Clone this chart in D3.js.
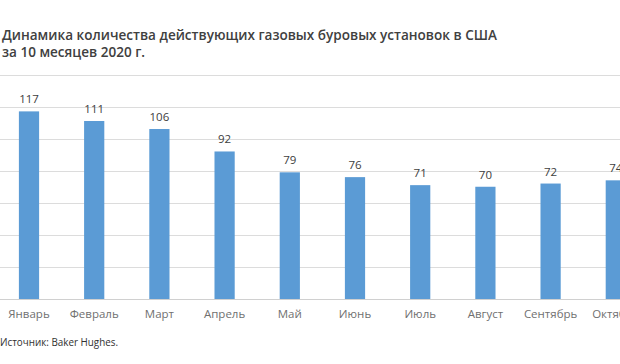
<!DOCTYPE html>
<html><head><meta charset="utf-8">
<script src="https://cdn.jsdelivr.net/npm/d3@7"></script>
<style>body{margin:0;background:#fff;}svg{display:block;}</style>
</head><body>
<svg id="c" width="620" height="364"></svg>
<script>
const months = ["Январь","Февраль","Март","Апрель","Май","Июнь","Июль","Август","Сентябрь","Октябрь"];
const rigs = [117,111,106,92,79,76,71,70,72,74];
const gridTicks = [0,20,40,60,80,100,120,140];
const titleLines = ["Динамика количества действующих газовых буровых установок в США","за 10 месяцев 2020 г."];
const sourceText = "Источник: Baker Hughes.";

const svg = d3.select("#c");
const x = d3.scaleBand().domain(months).range([-3.6, 648.4]).paddingInner(0.69).paddingOuter(0.345);
const y = d3.scaleLinear().domain([0,140]).range([299,74.5]);

// gridlines
svg.append("g").selectAll("line").data(gridTicks).join("line")
  .attr("x1",0).attr("x2",620)
  .attr("y1",d=>Math.round(y(d))+0.5).attr("y2",d=>Math.round(y(d))+0.5)
  .attr("stroke",d=>d===0?"#d0d0d0":"#dcdcdc").attr("stroke-width",1);

// bars
svg.append("g").selectAll("rect").data(rigs).join("rect")
  .attr("x",(d,i)=>x(months[i]))
  .attr("width",x.bandwidth())
  .attr("y",d=>y(d))
  .attr("height",d=>y(0)-y(d))
  .attr("fill","#5b9bd5");

// value labels
svg.append("g").selectAll("text").data(rigs).join("text")
  .attr("x",(d,i)=>x(months[i])+x.bandwidth()/2)
  .attr("y",d=>y(d)-8)
  .attr("text-anchor","middle")
  .attr("font-family","Open Sans, sans-serif")
  .attr("font-size",11.5)
  .attr("fill","#404040")
  .text(d=>d);

// month labels
svg.append("g").selectAll("text").data(months).join("text")
  .attr("x",d=>x(d)+x.bandwidth()/2)
  .attr("y",318)
  .attr("text-anchor","middle")
  .attr("font-family","Open Sans, sans-serif")
  .attr("font-size",11.5)
  .attr("fill","#707070")
  .text(d=>d);

// title
svg.append("text").attr("x",2).attr("y",40)
  .attr("font-family","Open Sans, sans-serif").attr("font-weight",600)
  .attr("font-size",14.5).attr("fill","#404040")
  .attr("textLength",495).attr("lengthAdjust","spacingAndGlyphs")
  .text(titleLines[0]);
svg.append("text").attr("x",2).attr("y",57)
  .attr("font-family","Open Sans, sans-serif").attr("font-weight",600)
  .attr("font-size",14.5).attr("fill","#404040")
  .attr("textLength",143).attr("lengthAdjust","spacingAndGlyphs")
  .text(titleLines[1]);

// source
svg.append("text").attr("x",0).attr("y",346)
  .attr("font-family","Open Sans, sans-serif")
  .attr("font-size",10.5).attr("fill","#303030")
  .attr("textLength",118).attr("lengthAdjust","spacingAndGlyphs")
  .text(sourceText);
</script>
</body></html>
